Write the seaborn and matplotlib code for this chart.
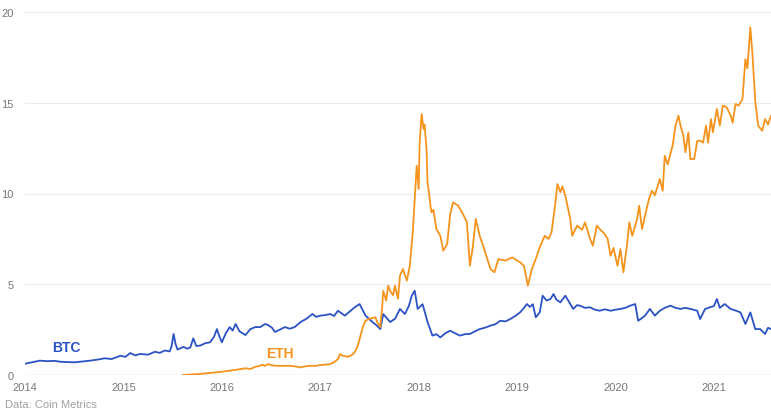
import matplotlib
matplotlib.use("Agg")
import matplotlib.pyplot as plt
import seaborn as sns
import pandas as pd

# ---- data (decimal years, ratio values) ----
btc_year = [2014.00, 2014.07, 2014.15, 2014.23, 2014.30, 2014.36, 2014.44, 2014.51, 2014.58, 2014.66,
            2014.74, 2014.81, 2014.88, 2014.97, 2015.02, 2015.07, 2015.12, 2015.17, 2015.25, 2015.32,
            2015.37, 2015.42, 2015.47, 2015.49, 2015.51, 2015.53, 2015.55, 2015.61, 2015.65, 2015.68,
            2015.71, 2015.74, 2015.78, 2015.83, 2015.88, 2015.92, 2015.95, 2015.97, 2016.00, 2016.04,
            2016.08, 2016.11, 2016.14, 2016.18, 2016.24, 2016.29, 2016.34, 2016.39, 2016.44, 2016.47,
            2016.51, 2016.54, 2016.59, 2016.64, 2016.69, 2016.74, 2016.80, 2016.86, 2016.92, 2016.96,
            2017.00, 2017.05, 2017.10, 2017.14, 2017.18, 2017.25, 2017.30, 2017.35, 2017.40, 2017.46,
            2017.53, 2017.57, 2017.61, 2017.64, 2017.71, 2017.76, 2017.81, 2017.86, 2017.90, 2017.93,
            2017.96, 2017.99, 2018.04, 2018.09, 2018.14, 2018.18, 2018.22, 2018.27, 2018.32, 2018.37,
            2018.42, 2018.47, 2018.52, 2018.57, 2018.62, 2018.67, 2018.73, 2018.78, 2018.83, 2018.88,
            2018.93, 2018.98, 2019.03, 2019.07, 2019.10, 2019.13, 2019.16, 2019.19, 2019.23, 2019.26,
            2019.30, 2019.34, 2019.37, 2019.40, 2019.44, 2019.49, 2019.53, 2019.57, 2019.61, 2019.64,
            2019.69, 2019.74, 2019.79, 2019.84, 2019.89, 2019.95, 2020.00, 2020.05, 2020.10, 2020.15,
            2020.20, 2020.23, 2020.26, 2020.30, 2020.35, 2020.40, 2020.45, 2020.50, 2020.56, 2020.61,
            2020.66, 2020.71, 2020.76, 2020.83, 2020.86, 2020.91, 2020.96, 2021.00, 2021.03, 2021.06,
            2021.11, 2021.17, 2021.22, 2021.27, 2021.32, 2021.37, 2021.42, 2021.47, 2021.52, 2021.55,
            2021.58]
btc_value = [0.62, 0.70, 0.79, 0.76, 0.78, 0.73, 0.71, 0.70, 0.74, 0.79,
             0.85, 0.92, 0.88, 1.06, 1.00, 1.21, 1.08, 1.16, 1.12, 1.28,
             1.22, 1.35, 1.30, 1.60, 2.26, 1.70, 1.40, 1.55, 1.45, 1.52,
             2.02, 1.60, 1.62, 1.75, 1.80, 2.10, 2.53, 2.20, 1.80, 2.30,
             2.64, 2.45, 2.81, 2.40, 2.20, 2.53, 2.64, 2.64, 2.81, 2.75,
             2.60, 2.37, 2.50, 2.64, 2.55, 2.64, 2.92, 3.10, 3.36, 3.20,
             3.27, 3.30, 3.36, 3.25, 3.54, 3.27, 3.50, 3.73, 3.91, 3.27,
             2.92, 2.75, 2.53, 3.36, 2.92, 3.10, 3.64, 3.36, 3.80, 4.37,
             4.64, 3.64, 3.90, 2.92, 2.17, 2.25, 2.07, 2.30, 2.44, 2.30,
             2.17, 2.25, 2.26, 2.40, 2.53, 2.60, 2.72, 2.80, 2.99, 2.95,
             3.08, 3.25, 3.45, 3.70, 3.91, 3.75, 3.90, 3.18, 3.45, 4.37,
             4.10, 4.19, 4.46, 4.15, 4.00, 4.37, 4.00, 3.64, 3.85, 3.82,
             3.70, 3.73, 3.60, 3.54, 3.62, 3.54, 3.60, 3.64, 3.70, 3.82,
             3.91, 2.99, 3.10, 3.27, 3.64, 3.27, 3.54, 3.70, 3.82, 3.70,
             3.64, 3.70, 3.64, 3.54, 3.08, 3.64, 3.73, 3.80, 4.19, 3.70,
             3.91, 3.64, 3.55, 3.45, 2.81, 3.45, 2.53, 2.53, 2.26, 2.60,
             2.53]

eth_year = [2015.60, 2015.70, 2015.78, 2015.85, 2015.93, 2016.00, 2016.08, 2016.16, 2016.24, 2016.29,
            2016.34, 2016.39, 2016.41, 2016.44, 2016.47, 2016.50, 2016.54, 2016.60, 2016.69, 2016.75,
            2016.80, 2016.85, 2016.90, 2016.95, 2017.00, 2017.05, 2017.10, 2017.14, 2017.18, 2017.20,
            2017.23, 2017.28, 2017.32, 2017.35, 2017.38, 2017.40, 2017.43, 2017.46, 2017.50, 2017.56,
            2017.58, 2017.61, 2017.63, 2017.64, 2017.67, 2017.69, 2017.71, 2017.74, 2017.76, 2017.79,
            2017.81, 2017.84, 2017.88, 2017.91, 2017.94, 2017.96, 2017.98, 2018.00, 2018.01, 2018.03,
            2018.05, 2018.06, 2018.08, 2018.09, 2018.10, 2018.12, 2018.13, 2018.15, 2018.18, 2018.22,
            2018.25, 2018.29, 2018.32, 2018.35, 2018.40, 2018.45, 2018.49, 2018.52, 2018.55, 2018.58,
            2018.62, 2018.66, 2018.73, 2018.77, 2018.81, 2018.88, 2018.95, 2019.03, 2019.07, 2019.11,
            2019.15, 2019.19, 2019.23, 2019.28, 2019.32, 2019.35, 2019.39, 2019.41, 2019.44, 2019.46,
            2019.49, 2019.54, 2019.56, 2019.61, 2019.66, 2019.69, 2019.74, 2019.77, 2019.81, 2019.84,
            2019.89, 2019.92, 2019.95, 2019.98, 2020.02, 2020.05, 2020.08, 2020.12, 2020.14, 2020.17,
            2020.22, 2020.24, 2020.27, 2020.30, 2020.34, 2020.37, 2020.40, 2020.45, 2020.48, 2020.50,
            2020.53, 2020.58, 2020.61, 2020.64, 2020.66, 2020.69, 2020.71, 2020.74, 2020.76, 2020.80,
            2020.83, 2020.86, 2020.89, 2020.92, 2020.94, 2020.97, 2020.99, 2021.03, 2021.06, 2021.09,
            2021.13, 2021.17, 2021.19, 2021.22, 2021.25, 2021.29, 2021.32, 2021.34, 2021.37, 2021.39,
            2021.42, 2021.45, 2021.49, 2021.52, 2021.55, 2021.58]
eth_value = [0.00, 0.03, 0.06, 0.10, 0.15, 0.18, 0.24, 0.30, 0.37, 0.33,
             0.45, 0.51, 0.57, 0.50, 0.60, 0.55, 0.51, 0.50, 0.51, 0.47,
             0.42, 0.48, 0.51, 0.50, 0.55, 0.57, 0.60, 0.70, 0.88, 1.15,
             1.06, 1.00, 1.10, 1.25, 1.60, 1.98, 2.60, 2.99, 3.10, 3.18,
             2.90, 2.64, 3.80, 4.64, 4.10, 4.92, 4.64, 4.40, 4.92, 4.20,
             5.47, 5.84, 5.20, 6.02, 7.86, 9.70, 11.53, 10.25, 12.82, 14.38,
             13.55, 13.80, 12.45, 10.62, 10.25, 9.33, 8.96, 9.10, 8.04, 7.67,
             6.85, 7.22, 8.87, 9.51, 9.33, 8.87, 8.41, 6.02, 7.03, 8.60,
             7.67, 7.03, 5.84, 5.66, 6.39, 6.30, 6.48, 6.21, 6.02, 4.92,
             5.84, 6.39, 7.03, 7.67, 7.50, 7.86, 9.51, 10.52, 10.07, 10.40,
             9.88, 8.60, 7.67, 8.23, 8.00, 8.41, 7.53, 7.12, 8.23, 8.04,
             7.77, 7.50, 6.57, 7.00, 6.02, 6.94, 5.66, 7.30, 8.41, 7.67,
             8.60, 9.33, 8.04, 8.78, 9.70, 10.15, 9.90, 10.80, 10.15, 12.08,
             11.60, 12.63, 13.74, 14.29, 13.74, 13.18, 12.27, 13.37, 11.90, 11.90,
             12.90, 12.90, 12.80, 13.74, 12.80, 14.10, 13.37, 14.66, 13.74, 14.84,
             14.75, 14.29, 13.90, 14.93, 14.84, 15.20, 17.40, 16.90, 19.15, 17.78,
             15.10, 13.74, 13.46, 14.10, 13.80, 14.30]

year_ticks = [2014, 2015, 2016, 2017, 2018, 2019, 2020, 2021]
y_ticks = [0, 5, 10, 15, 20]
series_names = ["BTC", "ETH"]

BTC_COLOR = "#2b52c4"
ETH_COLOR = "#f5931c"

df = pd.concat([
    pd.DataFrame({"year": btc_year, "value": btc_value, "asset": "BTC"}),
    pd.DataFrame({"year": eth_year, "value": eth_value, "asset": "ETH"}),
])

sns.set_style("white")
plt.rcParams["font.family"] = ["Liberation Sans", "DejaVu Sans"]

fig = plt.figure(figsize=(7.71, 4.10), dpi=100)
ax = fig.add_axes([25 / 771, 34 / 410, 746 / 771, 363 / 410])

sns.lineplot(data=df, x="year", y="value", hue="asset",
             palette={"BTC": BTC_COLOR, "ETH": ETH_COLOR},
             linewidth=1.3, legend=False, ax=ax, estimator=None, sort=False)

ax.set_xlim(2014, 2021.58)
ax.set_ylim(0, 20)
ax.set_xticks(year_ticks)
ax.set_xticklabels([str(y) for y in year_ticks])
ax.set_yticks(y_ticks)
ax.set_yticklabels([str(v) for v in y_ticks])
ax.set_xlabel("")
ax.set_ylabel("")

for s in ax.spines.values():
    s.set_visible(False)
ax.grid(False)
for v in y_ticks[1:]:
    ax.axhline(v, color="#ececec", linewidth=0.8, zorder=0)
ax.axhline(0, color="#d9d9d9", linewidth=1.0, zorder=0)

ax.tick_params(axis="both", length=0, labelsize=8, labelcolor="#777777")
ax.tick_params(axis="y", pad=8)
ax.tick_params(axis="x", pad=5)

ax.text(2014.42, 1.54, "BTC", color=BTC_COLOR, fontsize=10, fontweight="bold",
        ha="center", va="center")
ax.text(2016.59, 1.21, "ETH", color=ETH_COLOR, fontsize=10, fontweight="bold",
        ha="center", va="center")

fig.text(5 / 771, 1 - 405 / 410, "Data: Coin Metrics", color="#a0a0a0", fontsize=8,
         ha="left", va="center")

fig.savefig("out.png", dpi=100)
